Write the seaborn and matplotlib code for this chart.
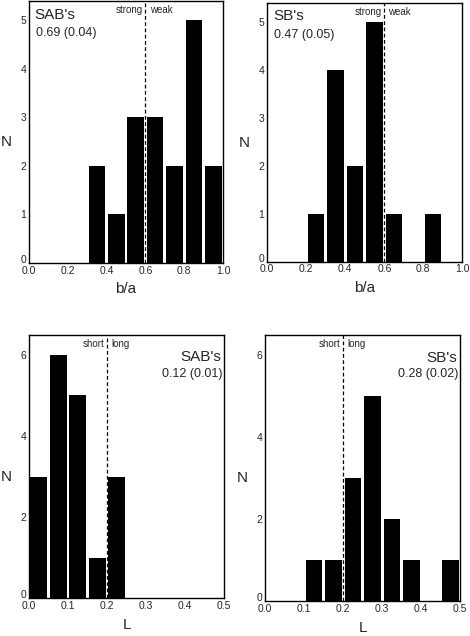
import matplotlib
matplotlib.use("Agg")
import matplotlib.pyplot as plt
import matplotlib.transforms as mtransforms
import seaborn as sns

sns.set_style("white")
plt.rcParams["font.family"] = ["Liberation Sans", "DejaVu Sans"]

# bin edges and counts
ba_edges = [0.0, 0.1, 0.2, 0.3, 0.4, 0.5, 0.6, 0.7, 0.8, 0.9, 1.0]
ba_centers = [0.05, 0.15, 0.25, 0.35, 0.45, 0.55, 0.65, 0.75, 0.85, 0.95]
sab_ba_counts = [0, 0, 0, 2, 1, 3, 3, 2, 5, 2]
sb_ba_counts = [0, 0, 1, 4, 2, 5, 1, 0, 1, 0]

L_edges = [0.0, 0.05, 0.1, 0.15, 0.2, 0.25, 0.3, 0.35, 0.4, 0.45, 0.5]
L_centers = [0.025, 0.075, 0.125, 0.175, 0.225, 0.275, 0.325, 0.375, 0.425, 0.475]
sab_L_counts = [3, 6, 5, 1, 3, 0, 0, 0, 0, 0]
sb_L_counts = [0, 0, 1, 1, 3, 5, 2, 1, 0, 1]

panels = [
    # name, stat, centers, counts, edges, split, left/right words, xlabel
    ("SAB's", "0.69 (0.04)", ba_centers, sab_ba_counts, ba_edges, 0.6, ("strong", "weak"), "b/a"),
    ("SB's", "0.47 (0.05)", ba_centers, sb_ba_counts, ba_edges, 0.6, ("strong", "weak"), "b/a"),
    ("SAB's", "0.12 (0.01)", L_centers, sab_L_counts, L_edges, 0.2, ("short", "long"), "L"),
    ("SB's", "0.28 (0.02)", L_centers, sb_L_counts, L_edges, 0.2, ("short", "long"), "L"),
]

rects = [
    [0.0617, 0.5865, 0.4128, 0.412],
    [0.5687, 0.5885, 0.415, 0.407],
    [0.0617, 0.0593, 0.415, 0.4145],
    [0.5638, 0.055, 0.4155, 0.419],
]

fig = plt.figure(figsize=(4.7, 6.36), dpi=100)

for i, (name, stat, centers, counts, edges, split, words, xlab) in enumerate(panels):
    ax = fig.add_axes(rects[i])
    sns.histplot(x=centers, weights=counts, bins=edges, shrink=0.85,
                 color="black", edgecolor="none", alpha=1, ax=ax)
    ax.axvline(split, color="black", linestyle=(0, (3, 2)), linewidth=0.9)

    ax.set_xlim(edges[0], edges[-1])
    if i < 2:
        ax.set_ylim(0, 5.4)
        ax.set_yticks([0, 1, 2, 3, 4, 5])
        ax.set_xticks([0.0, 0.2, 0.4, 0.6, 0.8, 1.0])
        ax.set_xticklabels(["0.0", "0.2", "0.4", "0.6", "0.8", "1.0"])
    else:
        ax.set_ylim(0, 6.5)
        ax.set_yticks([0, 2, 4, 6])
        ax.set_xticks([0.0, 0.1, 0.2, 0.3, 0.4, 0.5])
        ax.set_xticklabels(["0.0", "0.1", "0.2", "0.3", "0.4", "0.5"])

    ax.tick_params(axis="both", length=0, labelsize=7.5, pad=2)
    # lift the "0" on the y axis clear of the "0.0" below it
    lab0 = ax.get_yticklabels()[0]
    lab0.set_transform(lab0.get_transform() +
                       mtransforms.ScaledTranslation(0, 3 / 72, fig.dpi_scale_trans))
    for s in ax.spines.values():
        s.set_color("black")
        s.set_linewidth(1.0)

    ax.set_ylabel("N", rotation=0, fontsize=11, va="center", ha="center")
    ax.yaxis.set_label_coords(-0.118, 0.46)
    ax.set_xlabel(xlab, fontsize=11, va="center")
    ax.xaxis.set_label_coords(0.5, -0.1)

    tr = ax.get_xaxis_transform()
    ax.annotate(words[0], xy=(split, 1), xycoords=tr, xytext=(-2, -3),
                textcoords="offset points", ha="right", va="top", fontsize=7)
    ax.annotate(words[1], xy=(split, 1), xycoords=tr, xytext=(3, -3),
                textcoords="offset points", ha="left", va="top", fontsize=7)

    if i < 2:
        ax.text(0.03, 0.975, name, transform=ax.transAxes, ha="left", va="top", fontsize=11)
        ax.text(0.035, 0.9, stat, transform=ax.transAxes, ha="left", va="top", fontsize=9)
    else:
        ax.text(0.985, 0.94, name, transform=ax.transAxes, ha="right", va="top", fontsize=11)
        ax.text(0.99, 0.875, stat, transform=ax.transAxes, ha="right", va="top", fontsize=9)

fig.savefig("out.png", dpi=100)
